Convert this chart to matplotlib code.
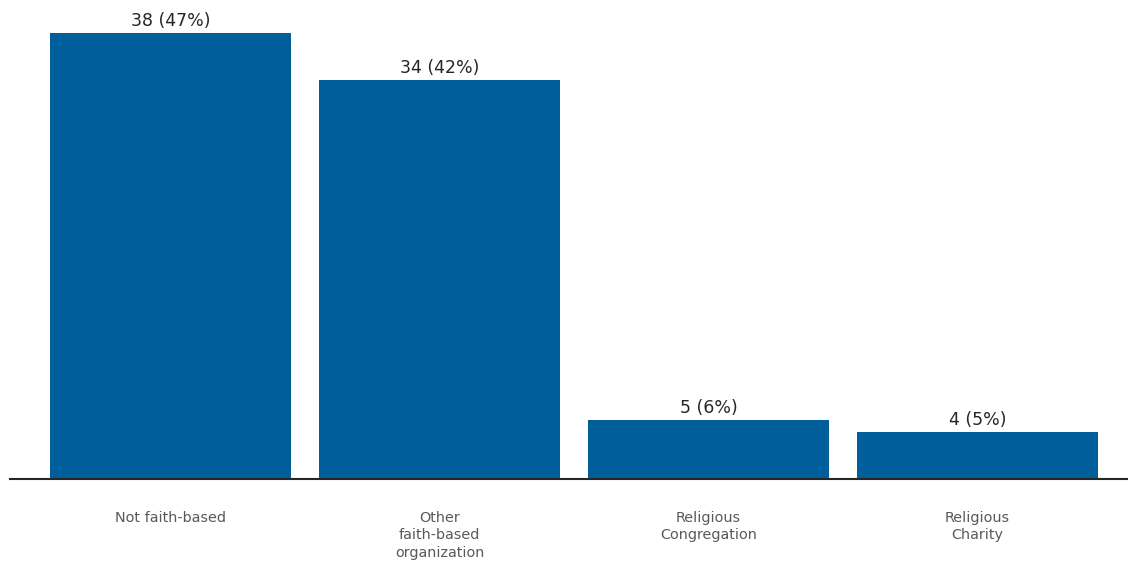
import matplotlib.pyplot as plt

categories = ['Not faith-based', 'Other\nfaith-based\norganization',
              'Religious\nCongregation', 'Religious\nCharity']
counts = [38, 34, 5, 4]
percents = [47, 42, 6, 5]

plt.rcParams['font.family'] = ['DejaVu Sans']

fig = plt.figure(figsize=(11.28, 5.63), dpi=100)
ax = fig.add_axes([10 / 1128, 84 / 563, 1 - 10 / 1128, 1 - 84 / 563 - 9 / 563])

x = range(len(categories))
bars = ax.bar(x, counts, width=0.896, color='#005f9a')

for i, b in enumerate(bars):
    ax.annotate(f'{counts[i]} ({percents[i]}%)',
                (b.get_x() + b.get_width() / 2, b.get_height()),
                xytext=(0, 2), textcoords='offset points',
                ha='center', va='bottom', fontsize=12.5, color='#262626')
    ax.annotate(categories[i], (i, 0), xytext=(0, -23), textcoords='offset points',
                ha='center', va='top', fontsize=10.4, color='#595959',
                linespacing=1.3)

ax.set_xlim(-0.597, 3.56)
ax.set_ylim(0, 40)
ax.set_xticks([])
ax.set_yticks([])
for side in ['top', 'right', 'left']:
    ax.spines[side].set_visible(False)
ax.spines['bottom'].set_color('#262626')
ax.spines['bottom'].set_linewidth(1.5)

fig.savefig('out.png', dpi=100)
